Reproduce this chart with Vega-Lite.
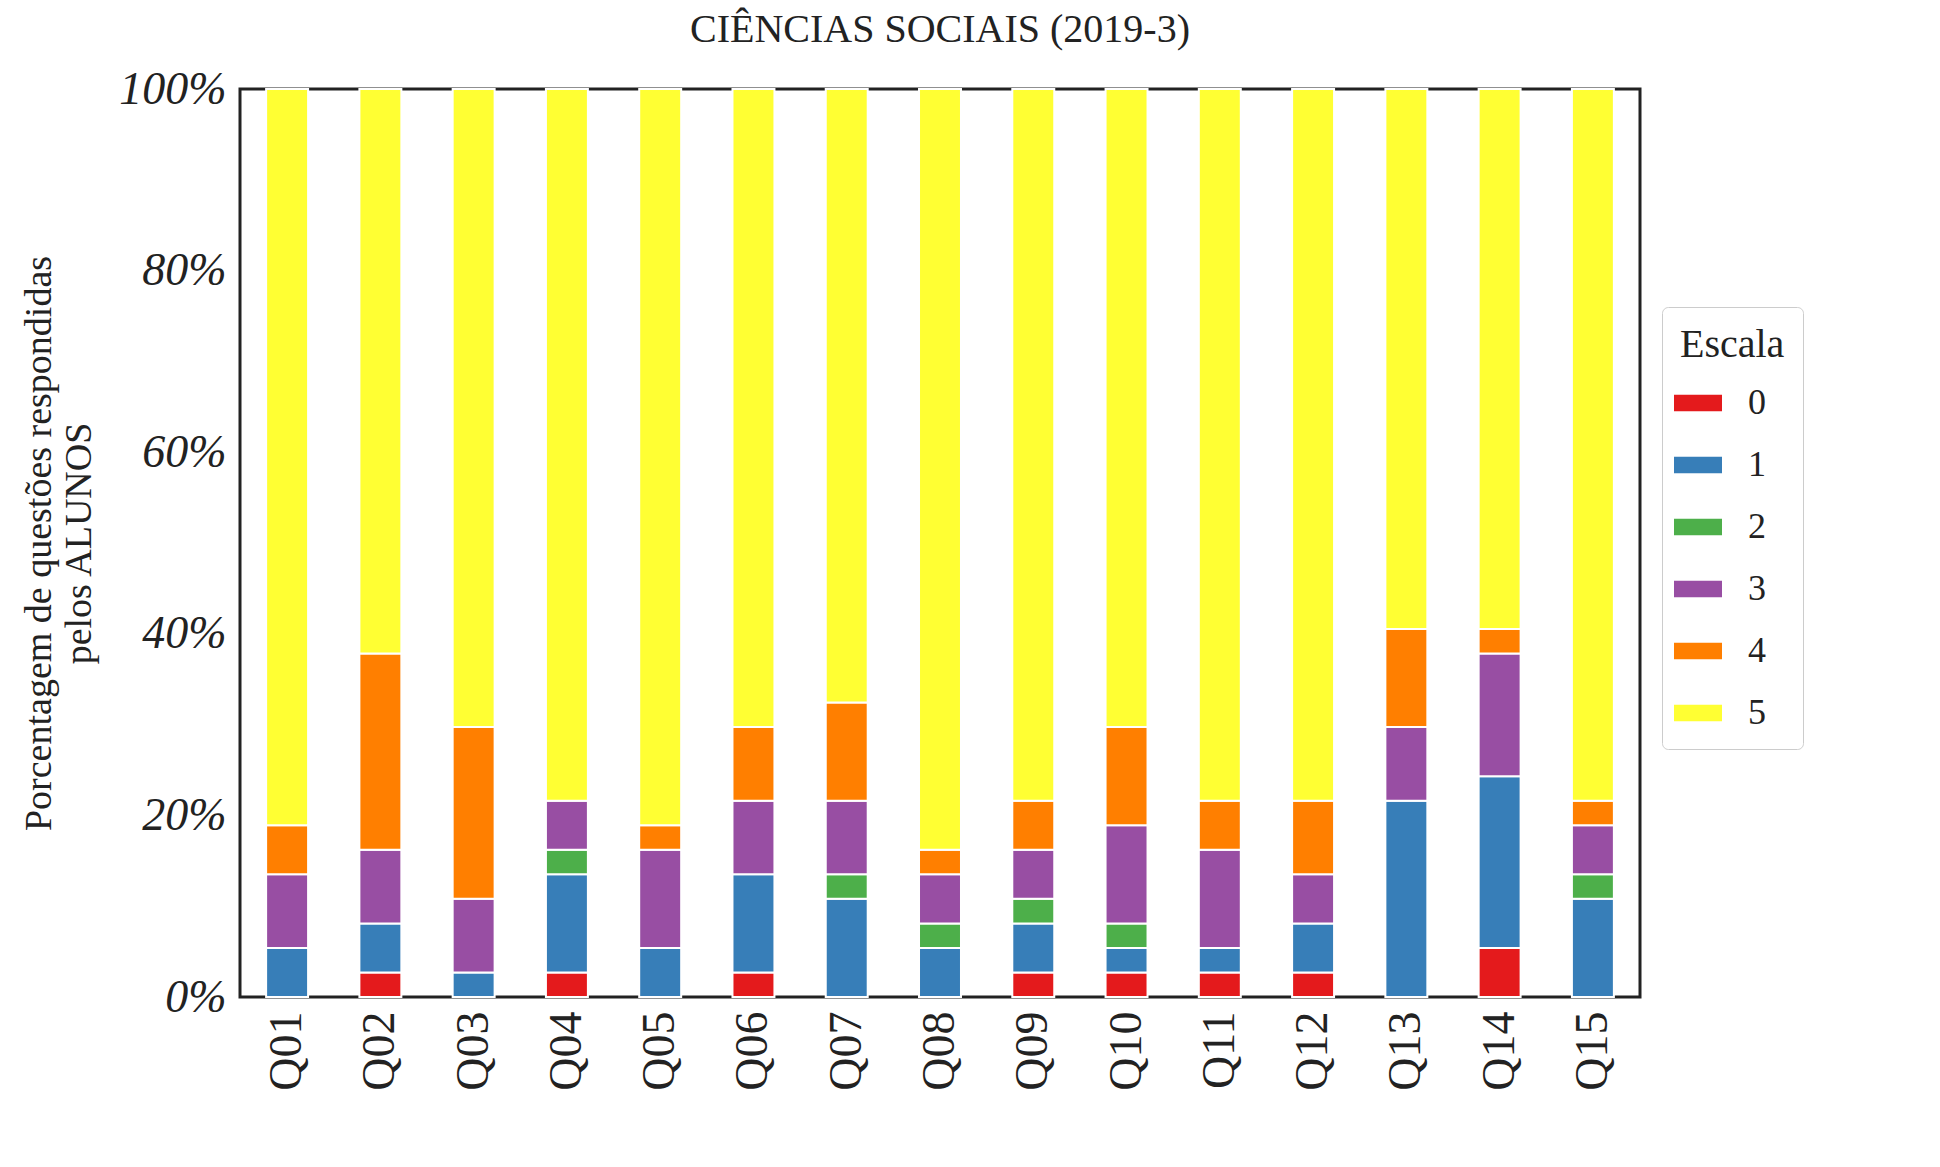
{
"$schema":"https://vega.github.io/schema/vega-lite/v6.json",
"width":1400,"height":908,
"background":"white",
"padding":{"left":20,"top":10,"right":10,"bottom":10},
"config":{"font":"Liberation Serif","view":{"stroke":"#222","strokeWidth":3}},
"title":{"text":"CIÊNCIAS SOCIAIS (2019-3)","fontSize":40,"fontWeight":"normal","font":"Liberation Serif","offset":16,"color":"#222"},
"data":{"values":[
{"q":"Q01","s":"1","n":2},{"q":"Q01","s":"3","n":3},{"q":"Q01","s":"4","n":2},{"q":"Q01","s":"5","n":30},
{"q":"Q02","s":"0","n":1},{"q":"Q02","s":"1","n":2},{"q":"Q02","s":"3","n":3},{"q":"Q02","s":"4","n":8},{"q":"Q02","s":"5","n":23},
{"q":"Q03","s":"1","n":1},{"q":"Q03","s":"3","n":3},{"q":"Q03","s":"4","n":7},{"q":"Q03","s":"5","n":26},
{"q":"Q04","s":"0","n":1},{"q":"Q04","s":"1","n":4},{"q":"Q04","s":"2","n":1},{"q":"Q04","s":"3","n":2},{"q":"Q04","s":"5","n":29},
{"q":"Q05","s":"1","n":2},{"q":"Q05","s":"3","n":4},{"q":"Q05","s":"4","n":1},{"q":"Q05","s":"5","n":30},
{"q":"Q06","s":"0","n":1},{"q":"Q06","s":"1","n":4},{"q":"Q06","s":"3","n":3},{"q":"Q06","s":"4","n":3},{"q":"Q06","s":"5","n":26},
{"q":"Q07","s":"1","n":4},{"q":"Q07","s":"2","n":1},{"q":"Q07","s":"3","n":3},{"q":"Q07","s":"4","n":4},{"q":"Q07","s":"5","n":25},
{"q":"Q08","s":"1","n":2},{"q":"Q08","s":"2","n":1},{"q":"Q08","s":"3","n":2},{"q":"Q08","s":"4","n":1},{"q":"Q08","s":"5","n":31},
{"q":"Q09","s":"0","n":1},{"q":"Q09","s":"1","n":2},{"q":"Q09","s":"2","n":1},{"q":"Q09","s":"3","n":2},{"q":"Q09","s":"4","n":2},{"q":"Q09","s":"5","n":29},
{"q":"Q10","s":"0","n":1},{"q":"Q10","s":"1","n":1},{"q":"Q10","s":"2","n":1},{"q":"Q10","s":"3","n":4},{"q":"Q10","s":"4","n":4},{"q":"Q10","s":"5","n":26},
{"q":"Q11","s":"0","n":1},{"q":"Q11","s":"1","n":1},{"q":"Q11","s":"3","n":4},{"q":"Q11","s":"4","n":2},{"q":"Q11","s":"5","n":29},
{"q":"Q12","s":"0","n":1},{"q":"Q12","s":"1","n":2},{"q":"Q12","s":"3","n":2},{"q":"Q12","s":"4","n":3},{"q":"Q12","s":"5","n":29},
{"q":"Q13","s":"1","n":8},{"q":"Q13","s":"3","n":3},{"q":"Q13","s":"4","n":4},{"q":"Q13","s":"5","n":22},
{"q":"Q14","s":"0","n":2},{"q":"Q14","s":"1","n":7},{"q":"Q14","s":"3","n":5},{"q":"Q14","s":"4","n":1},{"q":"Q14","s":"5","n":22},
{"q":"Q15","s":"1","n":4},{"q":"Q15","s":"2","n":1},{"q":"Q15","s":"3","n":2},{"q":"Q15","s":"4","n":1},{"q":"Q15","s":"5","n":29}
]},
"mark":{"type":"bar","stroke":"white","strokeWidth":2},
"encoding":{
"x":{"field":"q","type":"nominal","scale":{"paddingInner":0.55,"paddingOuter":0.28},
 "axis":{"title":null,"labelAngle":-90,"labelFontSize":46,"labelColor":"#222","ticks":false,"domain":false,"labelPadding":14,"labelBaseline":"middle"}},
"y":{"field":"n","type":"quantitative","stack":"normalize","scale":{"domain":[0,1]},
 "axis":{"title":["Porcentagem de questões respondidas","pelos ALUNOS"],"titleFontSize":38,"titleFontWeight":"normal","titleColor":"#222","titlePadding":20,
 "format":".0%","values":[0,0.2,0.4,0.6,0.8,1],"labelFontSize":46,"labelColor":"#222","labelFontStyle":"italic","grid":false,"ticks":false,"domain":false,"labelPadding":14}},
"order":{"field":"s","type":"ordinal","sort":"ascending"},
"color":{"field":"s","type":"nominal","scale":{"domain":["0","1","2","3","4","5"],"range":["#e41a1c","#377eb8","#4daf4a","#984ea3","#ff7f00","#ffff33"]},
 "legend":{"title":"Escala","titleFontSize":40,"titleFontWeight":"normal","titleColor":"#222","labelFontSize":36,"labelColor":"#222",
 "orient":"none","legendX":1422,"legendY":218,"padding":18,"strokeColor":"#ccc","cornerRadius":6,"fillColor":"white",
 "symbolType":"M-1.6,-0.55H1.6V0.55H-1.6Z","symbolSize":900,"symbolStrokeWidth":0,"symbolOpacity":1,"rowPadding":26,"labelOffset":32,"titlePadding":20}}
}
}
